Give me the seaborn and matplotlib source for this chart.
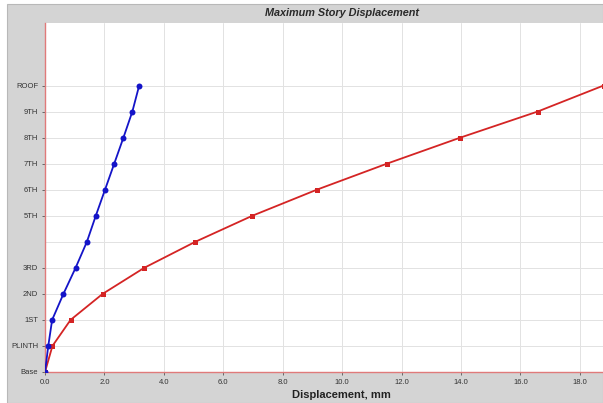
#!/usr/bin/env python3

import matplotlib
matplotlib.use("Agg")
import matplotlib.pyplot as plt
from matplotlib.patches import Rectangle
import numpy as np
import pandas as pd
import seaborn as sns

# story levels, bottom to top
stories = ["Base", "PLINTH", "1ST", "2ND", "3RD", "4TH",
           "5TH", "6TH", "7TH", "8TH", "9TH", "ROOF"]
# displacement (mm)
disp_blue = [0.0, 0.11, 0.24, 0.62, 1.03, 1.41, 1.71, 2.02, 2.33, 2.64, 2.94, 3.17]
disp_red = [0.0, 0.25, 0.86, 1.94, 3.34, 5.06, 6.98, 9.15, 11.51, 13.98, 16.58, 18.8]
xticks = [0, 2, 4, 6, 8, 10, 12, 14, 16, 18]
hidden_label = "4TH"   # the chart leaves this story unlabelled

level = np.arange(len(stories))
df_blue = pd.DataFrame({"disp": disp_blue, "level": level})
df_red = pd.DataFrame({"disp": disp_red, "level": level})

sns.set_theme(style="white")
plt.rcParams["font.family"] = ["Liberation Sans", "DejaVu Sans"]

W, H = 603, 403
fig = plt.figure(figsize=(W / 100, H / 100), dpi=100)
fig.patch.set_facecolor("white")

# grey chart panel behind everything
panel = Rectangle((7 / W, 0), (W - 7) / W, (H - 4) / H, transform=fig.transFigure,
                  facecolor="#d4d4d4", edgecolor="#b8b8b8", lw=0.8, zorder=-10)
fig.patches.append(panel)

ax = fig.add_axes([45 / W, (H - 372) / H, (W - 45) / W, (372 - 23) / H])
ax.set_zorder(1)
ax.set_facecolor("white")

sns.lineplot(data=df_red, x="disp", y="level", sort=False, estimator=None,
             color="#d42424", lw=1.3, marker="s", markersize=3.6,
             markeredgewidth=0, ax=ax, zorder=3)
sns.lineplot(data=df_blue, x="disp", y="level", sort=False, estimator=None,
             color="#1414c8", lw=1.3, marker="o", markersize=4.3,
             markeredgewidth=0, ax=ax, zorder=4)

ax.set_xlim(0, 18.78)
ax.set_ylim(0, 13.4)

ax.set_xticks(xticks)
ax.set_xticklabels([f"{v:.1f}" for v in xticks], fontsize=5.5, color="#333333")

shown = [i for i, s in enumerate(stories) if s != hidden_label]
ax.set_yticks(shown)
ax.set_yticklabels([stories[i] for i in shown], fontsize=5.5, color="#333333")
# grid line for the unlabelled story, with no tick mark
ax.set_yticks([stories.index(hidden_label)], minor=True)
ax.tick_params(axis="y", which="minor", length=0)
ax.grid(True, which="minor", axis="y", color="#e2e2e2", lw=0.7)

ax.tick_params(axis="both", which="major", length=2.5, width=0.6,
               color="#555555", pad=2.5, left=True, bottom=True)
ax.grid(True, which="major", color="#e2e2e2", lw=0.7)
ax.set_axisbelow(True)

for side in ["top", "right"]:
    ax.spines[side].set_visible(False)
for side in ["left", "bottom"]:
    ax.spines[side].set_color("#e07a7a")
    ax.spines[side].set_linewidth(1.0)

ax.set_xlabel("")
ax.set_ylabel("")

fig.text(342 / W, 1 - 13 / H, "Maximum Story Displacement", ha="center", va="center",
         fontsize=7.8, fontweight="bold", fontstyle="italic", color="#2a2a2a")
fig.text(341 / W, 1 - 395 / H, "Displacement, mm", ha="center", va="center",
         fontsize=8, fontweight="bold", color="#222222")

fig.savefig("out.png", dpi=100, facecolor=fig.get_facecolor())
